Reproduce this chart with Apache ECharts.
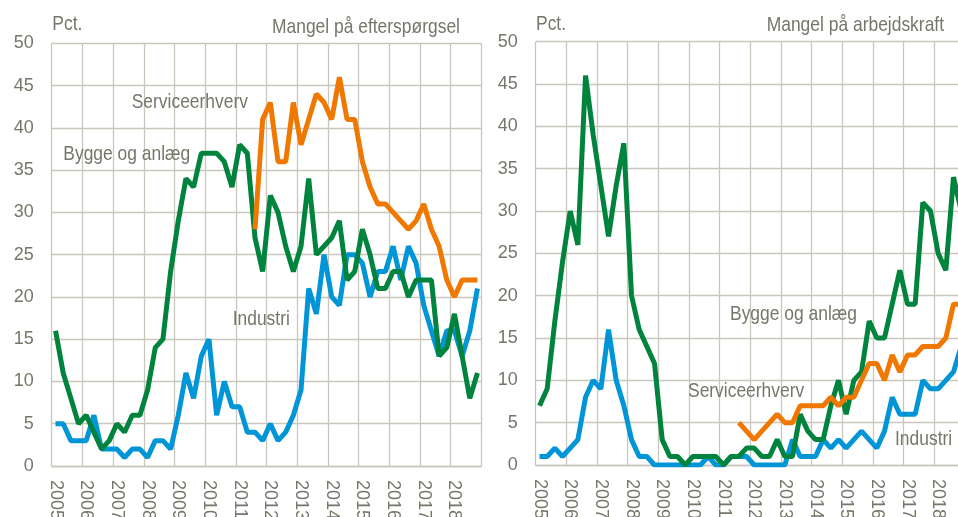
<!DOCTYPE html>
<html><head><meta charset="utf-8">
<script src="https://cdn.jsdelivr.net/npm/echarts@6/dist/echarts.min.js"></script>
<style>html,body{margin:0;padding:0;background:#fff}#c{width:958px;height:517px}</style>
</head><body><div id="c"></div>
<script>
// Quarterly categories 2005K1 .. 2018K4
const years = [2005,2006,2007,2008,2009,2010,2011,2012,2013,2014,2015,2016,2017,2018];
const categories = [];
years.forEach(y => { for (let q = 1; q <= 4; q++) categories.push(y + 'K' + q); });

const yTicks = [0,5,10,15,20,25,30,35,40,45,50];

// Mangel på efterspørgsel (left panel)
const demandBygge = [16,11,8,5,6,4,2,3,5,4,6,6,9,14,15,23,29,34,33,37,37,37,36,33,38,37,27,23,32,30,26,23,26,34,25,26,27,29,22,23,28,25,21,21,23,23,20,22,22,22,13,14,18,13,8,11];
const demandService = [null,null,null,null,null,null,null,null,null,null,null,null,null,null,null,null,null,null,null,null,null,null,null,null,null,null,28,41,43,36,36,43,38,41,44,43,41,46,41,41,36,33,31,31,30,29,28,29,31,28,26,22,20,22,22,22];
const demandIndustri = [5,5,3,3,3,6,2,2,2,1,2,2,1,3,3,2,6,11,8,13,15,6,10,7,7,4,4,3,5,3,4,6,9,21,18,25,20,19,25,25,24,20,23,23,26,22,26,24,19,16,13,16,16,13,16,21];

// Mangel på arbejdskraft (right panel)
const laborBygge = [7,9,17,24,30,26,46,39,33,27,33,38,20,16,14,12,3,1,1,0,1,1,1,1,0,1,1,2,2,1,1,3,1,1,6,4,3,3,7,10,6,10,11,17,15,15,19,23,19,19,31,30,25,23,34,30];
const laborService = [null,null,null,null,null,null,null,null,null,null,null,null,null,null,null,null,null,null,null,null,null,null,null,null,null,null,5,4,3,4,5,6,5,5,7,7,7,7,8,7,8,8,10,12,12,10,13,11,13,13,14,14,14,15,19,19];
const laborIndustri = [1,1,2,1,2,3,8,10,9,16,10,7,3,1,1,0,0,0,0,0,0,0,1,0,0,1,1,1,0,0,0,0,0,3,1,1,1,3,2,3,2,3,4,3,2,4,8,6,6,6,10,9,9,10,11,14];

const GREEN = '#00843d', ORANGE = '#f07800', BLUE = '#0095d6';
const TXT = '#76766a', GRID = '#c9c7bd';
const FONT = "'Liberation Sans',Arial,sans-serif";

function xAxis(gi) {
  return {
    type: 'category', gridIndex: gi, data: categories, boundaryGap: true,
    axisLine: { show: true, lineStyle: { color: GRID, width: 1.3 } },
    axisTick: { show: false },
    axisLabel: { interval: 3, rotate: -90, margin: 14, color: TXT, fontSize: 18, fontFamily: FONT,
      formatter: v => v.slice(0, 4) },
    splitLine: { show: true, interval: 3, lineStyle: { color: GRID, width: 1.3 } }
  };
}
function yAxis(gi) {
  return {
    type: 'value', gridIndex: gi, min: 0, max: 50, interval: 5,
    axisLine: { show: false }, axisTick: { show: false },
    axisLabel: { margin: 18, color: TXT, fontSize: 18, fontFamily: FONT },
    splitLine: { show: true, lineStyle: { color: GRID, width: 1.3 } }
  };
}
function line(data, color, gi) {
  return { type: 'line', xAxisIndex: gi, yAxisIndex: gi, data: data, showSymbol: false,
    connectNulls: false, lineStyle: { color: color, width: 5 }, itemStyle: { color: color },
    animation: false, z: 3 };
}
function txt(x, y, s) {
  return { type: 'text', x: x, y: y, scaleX: 0.83, z: 10,
    style: { text: s, fill: TXT, font: '21px ' + FONT, textVerticalAlign: 'middle' } };
}

const chart = echarts.init(document.getElementById('c'), null, { renderer: 'canvas' });
chart.setOption({
  animation: false,
  grid: [
    { left: 51.7, top: 43.3, width: 429.6, height: 422.7, containLabel: false, outerBoundsMode: 'none' },
    { left: 535.7, top: 41.7, width: 429.3, height: 423.3, containLabel: false, outerBoundsMode: 'none' }
  ],
  xAxis: [xAxis(0), xAxis(1)],
  yAxis: [yAxis(0), yAxis(1)],
  series: [
    line(demandIndustri, BLUE, 0), line(demandBygge, GREEN, 0), line(demandService, ORANGE, 0),
    line(laborIndustri, BLUE, 1), line(laborBygge, GREEN, 1), line(laborService, ORANGE, 1)
  ],
  graphic: [
    txt(52.3, 23.8, 'Pct.'),
    txt(272, 27.5, 'Mangel på efterspørgsel'),
    txt(131.7, 102.2, 'Serviceerhverv'),
    txt(63.3, 154.5, 'Bygge og anlæg'),
    txt(232.7, 319.2, 'Industri'),
    txt(536, 24, 'Pct.'),
    txt(766.7, 25, 'Mangel på arbejdskraft'),
    txt(730, 314.2, 'Bygge og anlæg'),
    txt(688, 390.8, 'Serviceerhverv'),
    txt(895, 439.7, 'Industri')
  ]
});
</script></body></html>
